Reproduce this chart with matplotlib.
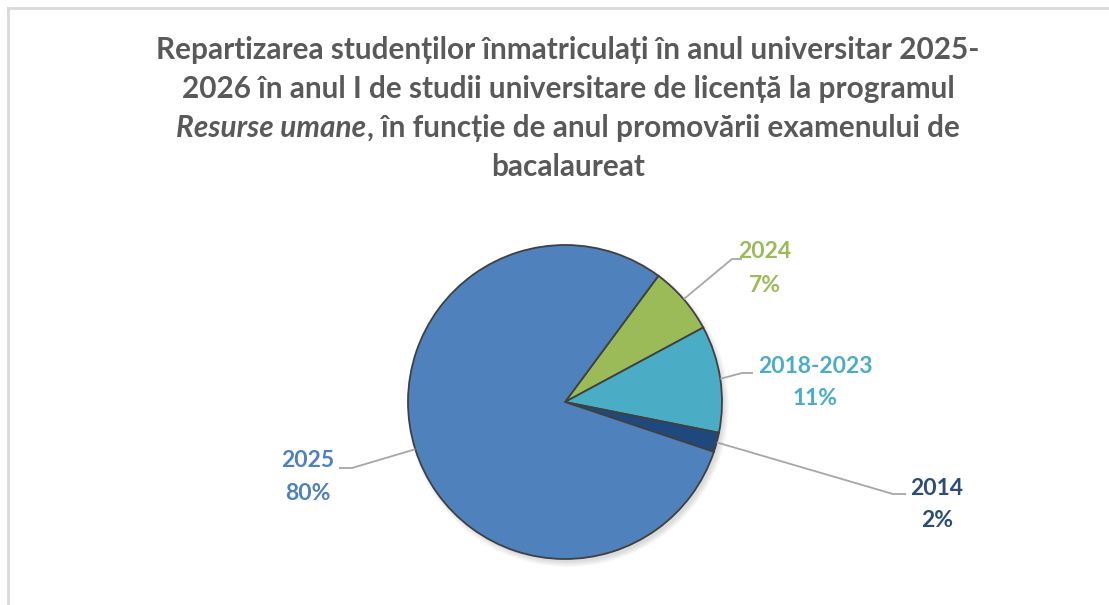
import matplotlib
matplotlib.use('Agg')
import matplotlib.pyplot as plt
import numpy as np

# ---- data ----
categories = ['2024', '2018-2023', '2014', '2025']
percentages = [7, 11, 2, 80]
slice_colors = ['#9BBB59', '#4BACC6', '#1F497D', '#4F81BD']
label_colors = ['#9BBB59', '#4BACC6', '#2C4D75', '#4F81BD']
title_lines = [
    [("Repartizarea studenților înmatriculați în anul universitar 2025-", 'normal')],
    [("2026 în anul I de studii universitare de licență la programul", 'normal')],
    [("Resurse umane", 'italic'), (", în funcție de anul promovării examenului de", 'normal')],
    [("bacalaureat", 'normal')],
]

FONT = ['Lato', 'DejaVu Sans']
W, H = 1109, 605
fig = plt.figure(figsize=(W / 100, H / 100), dpi=100)
ax = fig.add_axes([0, 0, 1, 1])

cx, cy, r = 565, H - 402, 157
start = 53.5

# soft shadow
for k in range(6):
    ax.add_patch(plt.Circle((cx + 3, cy - 4), r + 4 - k, color='black', alpha=0.025, lw=0, zorder=0))

wedges, _ = ax.pie(percentages, colors=slice_colors, startangle=start, counterclock=False,
                   center=(cx, cy), radius=r,
                   wedgeprops=dict(edgecolor='#404040', linewidth=1.3), frame=True)
ax.set_xlim(0, W)
ax.set_ylim(0, H)
ax.axis('off')

# label layout (pixel positions): text center x, name baseline, pct baseline, elbow, end-x
label_layout = {
    '2024': (765, 258, 292, (732, 259), 742),
    '2018-2023': (815, 373, 405, (742, 373), 753),
    '2014': (937, 495, 527, (893, 494), 906),
    '2025': (308, 467, 500, (352, 468), 339),
}
for w, cat, pct, col in zip(wedges, categories, percentages, label_colors):
    mid = np.deg2rad((w.theta1 + w.theta2) / 2)
    ex, ey = cx + r * np.cos(mid), cy + r * np.sin(mid)
    tx, b1, b2, (elx, ely), endx = label_layout[cat]
    ax.plot([ex, elx, endx], [ey, H - ely, H - ely], color='#A6A6A6', lw=1.3, zorder=1,
            solid_capstyle='butt')
    ax.text(tx, H - b1, cat, ha='center', va='baseline', color=col, fontsize=16.5,
            fontweight='bold', family=FONT)
    ax.text(tx, H - b2, f"{pct}%", ha='center', va='baseline', color=col, fontsize=16.5,
            fontweight='bold', family=FONT)

# title with mixed styles
renderer = fig.canvas.get_renderer()
title_color = '#595959'
tsize = 21.4
baselines = [59, 98, 137, 176]
title_cx = 568
for line, bl in zip(title_lines, baselines):
    texts = []
    for s, st in line:
        t = ax.text(0, H - bl, s, ha='left', va='baseline', fontsize=tsize, fontweight='bold',
                    style=st, color=title_color, family=FONT)
        texts.append(t)
    widths = [t.get_window_extent(renderer).width for t in texts]
    x = title_cx - sum(widths) / 2
    for t, wd in zip(texts, widths):
        t.set_x(x)
        x += wd

# frame lines (chart border, partially visible)
ax.plot([8, 8], [0, H - 8], color='#D9D9D9', lw=2, zorder=0)
ax.plot([8, W], [H - 8, H - 8], color='#D9D9D9', lw=2, zorder=0)

fig.savefig('out.png', dpi=100, facecolor='white')
